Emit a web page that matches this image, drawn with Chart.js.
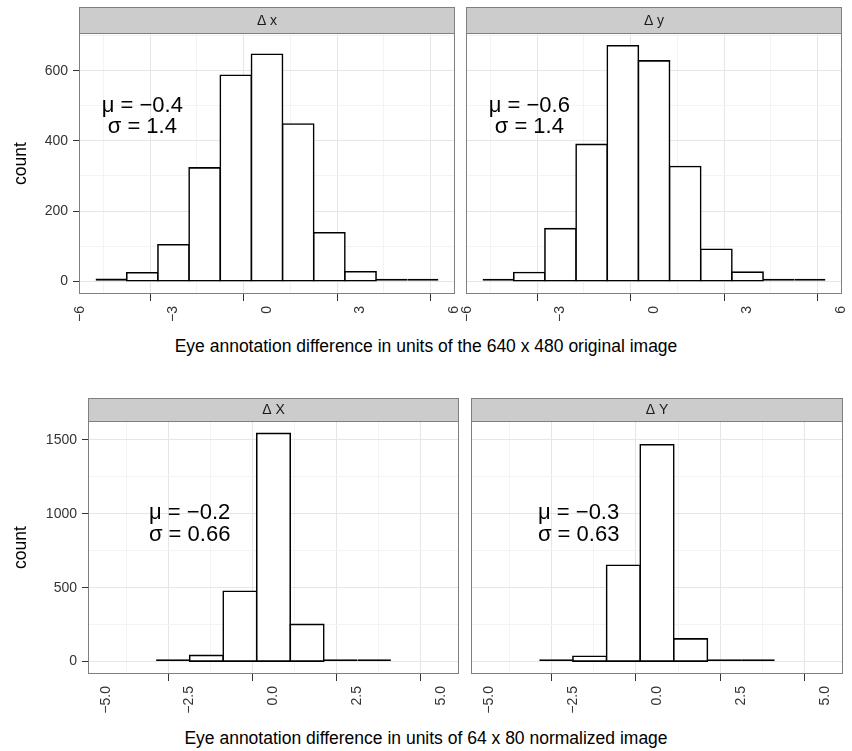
<!DOCTYPE html>
<html>
<head>
<meta charset="utf-8">
<title>Eye annotation differences</title>
<script src="https://cdn.jsdelivr.net/npm/chart.js@4.4.1/dist/chart.umd.min.js"></script>
<style>
    html, body { margin: 0; padding: 0; background: #fff; overflow: hidden; }
    #figure { position: relative; width: 852px; height: 751px; }
    #figure canvas { position: absolute; }
    .xtitle {
        position: absolute;
        left: 0;
        width: 852px;
        text-align: center;
        font-family: "Liberation Sans", Arial, Helvetica, sans-serif;
        font-size: 17.5px;
        line-height: 20px;
        color: #000;
    }
</style>
</head>
<body>
<div id="figure">
    <canvas id="panelTL"></canvas>
    <canvas id="panelTR"></canvas>
    <canvas id="panelBL"></canvas>
    <canvas id="panelBR"></canvas>
    <div class="xtitle" style="top: 336px;">Eye annotation difference in units of the 640 x 480 original image</div>
    <div class="xtitle" style="top: 728px;">Eye annotation difference in units of 64 x 80 normalized image</div>
</div>

<script>
// bin centres (bin width 1) and counts
const topBins = [-5, -4, -3, -2, -1, 0, 1, 2, 3, 4, 5];
const countDx = [8, 24, 104, 323, 587, 647, 448, 138, 27, 3, 2];
const countDy = [3, 25, 150, 390, 671, 628, 327, 91, 26, 7, 2];

const bottomBins = [-3, -2, -1, 0, 1, 2, 3];
const countDX = [2, 42, 476, 1543, 252, 11, 1];
const countDY = [2, 36, 652, 1466, 154, 9, 2];

// axis breaks
const topXMajor = [-6, -3, 0, 3, 6];
const topXMinor = [-4.5, -1.5, 1.5, 4.5];
const topYMajor = [0, 200, 400, 600];
const topYMinor = [100, 300, 500, 700];
const bottomXMajor = [-5, -2.5, 0, 2.5, 5];
const bottomXMinor = [-3.75, -1.25, 1.25, 3.75];
const bottomYMajor = [0, 500, 1000, 1500];
const bottomYMinor = [250, 750, 1250];

const topXRange = [-6, 6];
const topYRange = [-33.5, 704.5];
const bottomXRange = [-5.5, 5.5];
const bottomYRange = [-77, 1620];

// facet strips and the mean / sd labels
const stripLabels = ["Δ x", "Δ y", "Δ X", "Δ Y"];
const muLabels = ["μ = −0.4", "μ = −0.6", "μ = −0.2", "μ = −0.3"];
const sigmaLabels = ["σ = 1.4", "σ = 1.4", "σ = 0.66", "σ = 0.63"];
const labelX = [-4, -4, -2.5, -2.33];
const muY = [500, 500, 1006, 1006];
const sigmaY = [440, 440, 858, 858];

const FONT = '"Liberation Sans", Arial, Helvetica, sans-serif';
const MAJOR_GRID = "#e6e6e6";
const MINOR_GRID = "#f3f3f3";
const BORDER = "#7f7f7f";
const OUTLINE = 1.6; // bar outline, centred on the bin edges

// where each panel canvas sits on the page
const panels = [
    { id: "panelTL", left: 0, top: 0, width: 480, height: 335, padLeft: 0, yAxisW: 80, padTop: 34, padRight: 26, xAxisH: 42, stripH: 26, first: true },
    { id: "panelTR", left: 457, top: 0, width: 410, height: 335, padLeft: 10, yAxisW: 0, padTop: 34, padRight: 26, xAxisH: 42, stripH: 26, first: false },
    { id: "panelBL", left: 0, top: 395, width: 484, height: 323, padLeft: 0, yAxisW: 89, padTop: 27, padRight: 26, xAxisH: 45, stripH: 23, first: true },
    { id: "panelBR", left: 462, top: 395, width: 406, height: 323, padLeft: 10, yAxisW: 0, padTop: 27, padRight: 26, xAxisH: 45, stripH: 23, first: false },
];

function fmt(v, digits) {
    const s = Math.abs(v).toFixed(digits);
    return v < 0 ? "\u2212" + s : s;
}

function withMinor(major, minor) {
    return major.concat(minor).sort((a, b) => a - b);
}

// pixel height of a bar, used to keep the tiny bins drawn as solid lines
function barPixels(c) {
    const y = c.chart.scales.y;
    if (!y || !c.parsed) return 100;
    return Math.abs(y.getPixelForValue(0) - y.getPixelForValue(c.parsed.y));
}

// strip on top of the panel, grey frame, mean / sd text
const facetPlugin = {
    id: "facet",
    afterDatasetsDraw(chart, args, opts) {
        const { ctx, chartArea: a, scales } = chart;
        ctx.save();
        ctx.strokeStyle = BORDER;
        ctx.lineWidth = 1;
        ctx.strokeRect(a.left - 0.5, a.top - 0.5, a.right - a.left + 1, a.bottom - a.top + 1);

        // strip
        ctx.fillStyle = "#cccccc";
        ctx.fillRect(a.left - 0.5, a.top - opts.stripH - 0.5, a.right - a.left + 1, opts.stripH);
        ctx.strokeRect(a.left - 0.5, a.top - opts.stripH - 0.5, a.right - a.left + 1, opts.stripH);
        ctx.fillStyle = "#1a1a1a";
        ctx.font = "14px " + FONT;
        ctx.textAlign = "center";
        ctx.textBaseline = "middle";
        ctx.fillText(opts.strip, (a.left + a.right) / 2, a.top - opts.stripH / 2);

        // annotations
        ctx.fillStyle = "#000";
        ctx.font = "22px " + FONT;
        const x = scales.x.getPixelForValue(opts.noteX);
        ctx.fillText(opts.mu, x, scales.y.getPixelForValue(opts.muY));
        ctx.fillText(opts.sigma, x, scales.y.getPixelForValue(opts.sigmaY));
        ctx.restore();
    },
};

function buildPanel(p, i) {
    const isTop = i < 2;
    const bins = isTop ? topBins : bottomBins;
    const counts = [countDx, countDy, countDX, countDY][i];
    const xMajor = isTop ? topXMajor : bottomXMajor;
    const xTicks = withMinor(xMajor, isTop ? topXMinor : bottomXMinor);
    const yMajor = isTop ? topYMajor : bottomYMajor;
    const yTicks = withMinor(yMajor, isTop ? topYMinor : bottomYMinor);
    const xRange = isTop ? topXRange : bottomXRange;
    const yRange = isTop ? topYRange : bottomYRange;

    const canvas = document.getElementById(p.id);
    canvas.width = p.width;
    canvas.height = p.height;
    canvas.style.left = p.left + "px";
    canvas.style.top = p.top + "px";

    const gridColor = (ticks) => (c) => (c.tick && ticks.includes(c.tick.value) ? MAJOR_GRID : MINOR_GRID);
    const tickColor = (ticks) => (c) => (c.tick && ticks.includes(c.tick.value) ? "#333" : "rgba(0,0,0,0)");

    return new Chart(canvas, {
        type: "bar",
        data: {
            datasets: [
                {
                    data: bins.map((b, k) => ({ x: b, y: counts[k] })),
                    backgroundColor: "#ffffff",
                    borderColor: "#000000",
                    borderWidth: OUTLINE,
                    borderSkipped: false,
                    // push the outline half outwards so it straddles the bin edges
                    inflateAmount: (c) => (barPixels(c) < 4 ? 0 : OUTLINE / 2),
                    minBarLength: 2.4,
                    barPercentage: 1,
                    categoryPercentage: 1,
                },
            ],
        },
        options: {
            responsive: false,
            devicePixelRatio: 1,
            animation: false,
            events: [],
            layout: {
                padding: { left: p.padLeft, top: p.padTop, right: p.padRight, bottom: 0 },
            },
            scales: {
                x: {
                    type: "linear",
                    min: xRange[0],
                    max: xRange[1],
                    offset: false,
                    border: { display: false },
                    grid: {
                        color: gridColor(xMajor),
                        tickColor: tickColor(xMajor),
                        lineWidth: 1,
                        tickLength: 8,
                    },
                    ticks: {
                        autoSkip: false,
                        minRotation: 90,
                        maxRotation: 90,
                        padding: 5,
                        color: "#333",
                        font: { family: FONT, size: 14 },
                        callback: (v) => (xMajor.includes(v) ? fmt(v, isTop ? 0 : 1) : ""),
                    },
                    afterBuildTicks: (s) => {
                        s.ticks = xTicks.map((v) => ({ value: v }));
                    },
                    afterFit: (s) => {
                        s.height = p.xAxisH;
                    },
                },
                y: {
                    type: "linear",
                    min: yRange[0],
                    max: yRange[1],
                    border: { display: false },
                    grid: {
                        color: gridColor(yMajor),
                        tickColor: tickColor(yMajor),
                        lineWidth: 1,
                        tickLength: 7,
                        drawTicks: p.first,
                    },
                    ticks: {
                        display: p.first,
                        padding: 5,
                        color: "#333",
                        font: { family: FONT, size: 14 },
                        callback: (v) => (yMajor.includes(v) ? String(v) : ""),
                    },
                    title: {
                        display: p.first,
                        text: "count",
                        color: "#000",
                        font: { family: FONT, size: 17.5 },
                        padding: { top: 11, bottom: 0 },
                    },
                    afterBuildTicks: (s) => {
                        s.ticks = yTicks.map((v) => ({ value: v }));
                    },
                    afterFit: (s) => {
                        s.width = p.yAxisW;
                    },
                },
            },
            plugins: {
                legend: { display: false },
                tooltip: { enabled: false },
                facet: {
                    stripH: p.stripH,
                    strip: stripLabels[i],
                    mu: muLabels[i],
                    sigma: sigmaLabels[i],
                    noteX: labelX[i],
                    muY: muY[i],
                    sigmaY: sigmaY[i],
                },
            },
        },
        plugins: [facetPlugin],
    });
}

panels.forEach((p, i) => buildPanel(p, i));
</script>
</body>
</html>
